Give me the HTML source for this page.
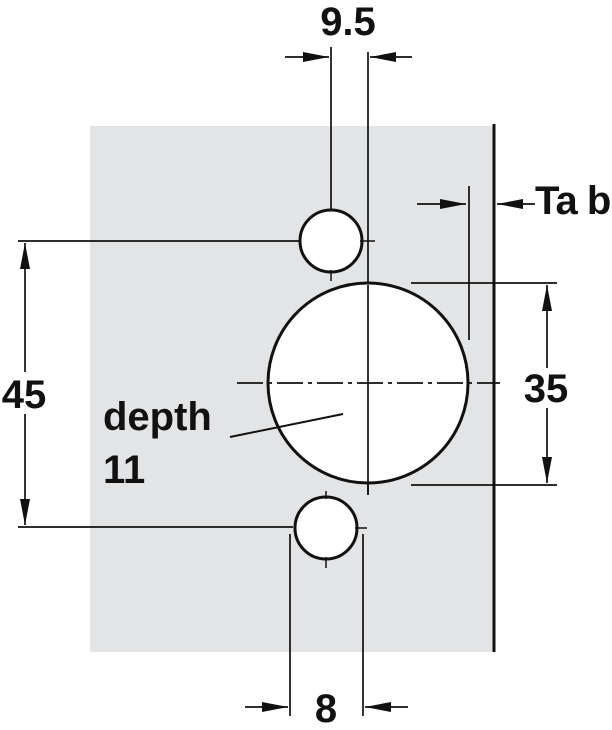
<!DOCTYPE html>
<html><head><style>body{margin:0;background:#fff}svg{display:block}text{font-family:"Liberation Sans",sans-serif;font-weight:bold;fill:#111}</style></head><body>
<svg width="612" height="730" viewBox="0 0 612 730" xmlns="http://www.w3.org/2000/svg">
<defs>
<marker id="b" viewBox="0 0 26 10" refX="26" refY="5" markerWidth="26" markerHeight="10" markerUnits="userSpaceOnUse" orient="auto"><path d="M0,0L26,5L0,10z" fill="#111"/></marker></defs>
<rect x="90" y="126" width="404" height="526" fill="#e3e4e6"/>
<g stroke="#111" fill="none">
<line x1="494" y1="124" x2="494" y2="652" stroke-width="3"/>
<line x1="331" y1="47" x2="331" y2="210" stroke-width="1.7"/>
<line x1="368" y1="52" x2="368" y2="495" stroke-width="1.7"/>
<line x1="285" y1="57" x2="329" y2="57" stroke-width="1.7" marker-end="url(#b)"/>
<line x1="412" y1="57" x2="370" y2="57" stroke-width="1.7" marker-end="url(#b)"/>
<circle cx="331" cy="241" r="31" fill="#fff" stroke-width="3"/>
<line x1="360" y1="241" x2="375" y2="241" stroke-width="1.5"/>
<line x1="331" y1="270" x2="331" y2="281" stroke-width="1.5"/>
<line x1="18" y1="241" x2="300" y2="241" stroke-width="1.7"/>
<line x1="18" y1="527" x2="293" y2="527" stroke-width="1.7"/>
<line x1="25" y1="372" x2="25" y2="243" stroke-width="1.7" marker-end="url(#b)"/>
<line x1="25" y1="414" x2="25" y2="525" stroke-width="1.7" marker-end="url(#b)"/>
<circle cx="368" cy="383" r="100" fill="#fff" stroke-width="3"/>
<line x1="368" y1="285" x2="368" y2="495" stroke-width="1.7"/>
<line x1="237" y1="383" x2="500" y2="383" stroke-width="1.7" stroke-dasharray="26,5,4,5"/>
<line x1="469" y1="186" x2="469" y2="340" stroke-width="1.7"/>
<line x1="417" y1="204" x2="466" y2="204" stroke-width="1.7" marker-end="url(#b)"/>
<line x1="535" y1="204" x2="497" y2="204" stroke-width="1.7" marker-end="url(#b)"/>
<line x1="411" y1="283" x2="557" y2="283" stroke-width="1.7"/>
<line x1="411" y1="485" x2="557" y2="485" stroke-width="1.7"/>
<line x1="547" y1="368" x2="547" y2="285" stroke-width="1.7" marker-end="url(#b)"/>
<line x1="547" y1="408" x2="547" y2="483" stroke-width="1.7" marker-end="url(#b)"/>
<line x1="230" y1="437" x2="343" y2="414" stroke-width="2"/>
<circle cx="326" cy="528" r="31" fill="#fff" stroke-width="3"/>
<line x1="326" y1="491" x2="326" y2="499" stroke-width="1.5"/>
<line x1="326" y1="557" x2="326" y2="568" stroke-width="1.5"/>
<line x1="355" y1="528" x2="367" y2="528" stroke-width="1.5"/>
<line x1="290" y1="534" x2="290" y2="716" stroke-width="1.7"/>
<line x1="363" y1="534" x2="363" y2="716" stroke-width="1.7"/>
<line x1="245" y1="707" x2="288" y2="707" stroke-width="1.7" marker-end="url(#b)"/>
<line x1="408" y1="707" x2="365" y2="707" stroke-width="1.7" marker-end="url(#b)"/>
</g>
<text x="348" y="35" font-size="40" text-anchor="middle">9.5</text>
<text x="535" y="214" font-size="40" letter-spacing="-1">Ta b</text>
<text x="546" y="402" font-size="40" text-anchor="middle">35</text>
<text x="24" y="408" font-size="40" text-anchor="middle">45</text>
<text x="103" y="430" font-size="40">depth</text>
<text x="103" y="483" font-size="40">11</text>
<text x="326" y="722" font-size="40" text-anchor="middle">8</text>
</svg>
</body></html>
